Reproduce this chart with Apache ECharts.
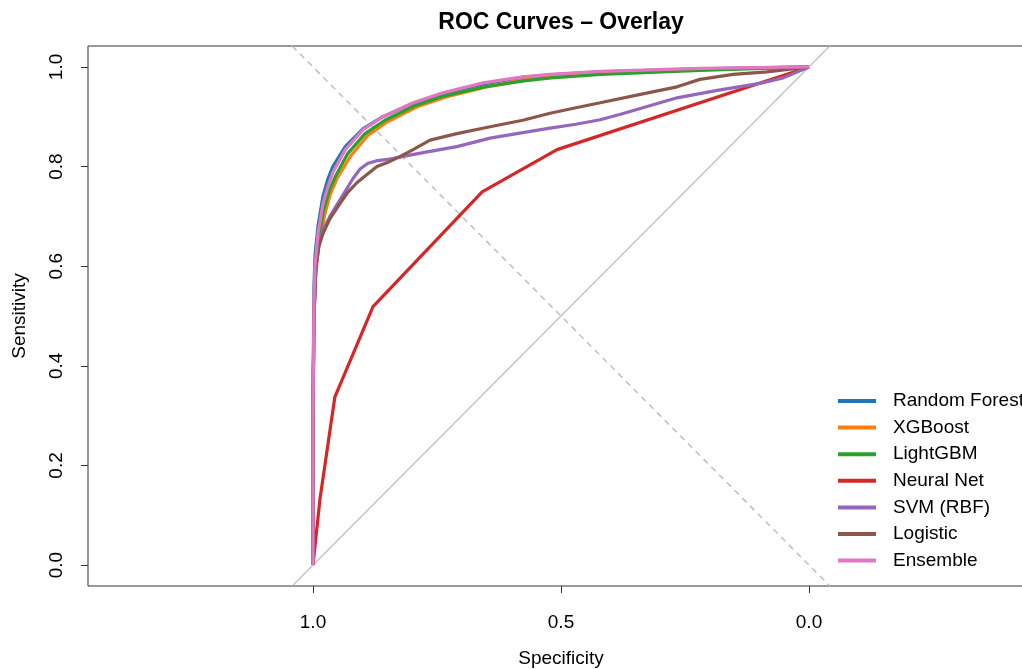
<!DOCTYPE html>
<html>
<head>
<meta charset="utf-8">
<script src="https://cdn.jsdelivr.net/npm/echarts@6/dist/echarts.min.js"></script>
<style>
html,body{margin:0;padding:0;background:#fff;}
#chart{width:1022px;height:669px;}
</style>
</head>
<body>
<div id="chart"></div>
<script>
const seriesNames = ["Random Forest","XGBoost","LightGBM","Neural Net","SVM (RBF)","Logistic","Ensemble"];
const seriesColors = ["#1f77b4","#ff7f0e","#2ca02c","#d62728","#9467bd","#8c564b","#e377c2"];

const rfSpec   = [1,1,0.998,0.996,0.990,0.980,0.970,0.960,0.935,0.899,0.859,0.798,0.738,0.657,0.577,0.522,0.421,0.22,0];
const rfSens   = [0,0.35,0.56,0.62,0.68,0.74,0.775,0.80,0.84,0.876,0.90,0.927,0.947,0.966,0.979,0.984,0.99,0.996,1];
const xgbSpec  = [1,1,0.998,0.995,0.988,0.976,0.965,0.952,0.925,0.89,0.85,0.79,0.73,0.65,0.57,0.51,0.42,0.22,0];
const xgbSens  = [0,0.3,0.5,0.58,0.645,0.705,0.745,0.775,0.82,0.862,0.89,0.92,0.94,0.96,0.975,0.982,0.988,0.995,1];
const lgbSpec  = [1,1,0.998,0.995,0.989,0.978,0.967,0.955,0.93,0.895,0.855,0.795,0.735,0.655,0.575,0.52,0.42,0.22,0];
const lgbSens  = [0,0.3,0.51,0.59,0.655,0.715,0.752,0.78,0.826,0.866,0.893,0.922,0.942,0.96,0.972,0.978,0.985,0.993,1];
const nnSpec   = [1,0.986,0.956,0.879,0.659,0.508,0];
const nnSens   = [0,0.132,0.337,0.519,0.749,0.834,1];
const svmSpec  = [1,1,0.998,0.994,0.988,0.98,0.966,0.94,0.92,0.905,0.89,0.87,0.845,0.81,0.778,0.71,0.643,0.577,0.522,0.47,0.421,0.38,0.335,0.266,0.185,0.099,0.052,0];
const svmSens  = [0,0.3,0.5,0.6,0.645,0.672,0.70,0.742,0.775,0.795,0.806,0.812,0.815,0.822,0.828,0.840,0.857,0.868,0.877,0.885,0.894,0.905,0.918,0.938,0.953,0.967,0.978,1];
const logSpec  = [1,1,0.998,0.994,0.988,0.98,0.966,0.946,0.93,0.911,0.89,0.871,0.85,0.825,0.8,0.764,0.71,0.643,0.577,0.522,0.47,0.421,0.335,0.266,0.22,0.153,0.085,0];
const logSens  = [0,0.3,0.5,0.6,0.64,0.665,0.695,0.725,0.748,0.768,0.785,0.80,0.808,0.82,0.833,0.853,0.866,0.880,0.893,0.907,0.918,0.928,0.946,0.96,0.975,0.985,0.99,1];
const ensSpec  = [1,1,0.998,0.996,0.990,0.980,0.970,0.960,0.935,0.899,0.859,0.798,0.738,0.657,0.577,0.522,0.421,0.22,0];
const ensSens  = [0,0.3,0.53,0.60,0.665,0.725,0.76,0.788,0.834,0.874,0.900,0.928,0.948,0.968,0.980,0.985,0.991,0.997,1];

const chanceSpec = [1.042,-0.042];
const chanceSens = [-0.042,1.042];
const equalSpec  = [1.042,-0.042];
const equalSens  = [1.042,-0.042];

const xTicks = [1.0,0.5,0.0];
const yTicks = [0,0.2,0.4,0.6,0.8,1.0];

const specArrays = [rfSpec,xgbSpec,lgbSpec,nnSpec,svmSpec,logSpec,ensSpec];
const sensArrays = [rfSens,xgbSens,lgbSens,nnSens,svmSens,logSens,ensSens];

function pairs(xs, ys){ return xs.map((x,i)=>[x, ys[i]]); }

const FONT = '"Liberation Sans", Arial, Helvetica, sans-serif';
const chart = echarts.init(document.getElementById('chart'), null, {renderer:'canvas'});

const series = [
  {type:'line', name:'_chance', data:pairs(chanceSpec,chanceSens), showSymbol:false, silent:true,
   lineStyle:{color:'#bebebe', width:1.2}, z:1},
  {type:'line', name:'_equal', data:pairs(equalSpec,equalSens), showSymbol:false, silent:true,
   lineStyle:{color:'#bebebe', width:1.5, type:[6,5]}, z:1}
];
seriesNames.forEach((n,i)=>{
  series.push({type:'line', name:n, data:pairs(specArrays[i],sensArrays[i]), showSymbol:false,
    lineStyle:{color:seriesColors[i], width:3.2}, itemStyle:{color:seriesColors[i]}, z:2+i});
});

chart.setOption({
  animation:false,
  backgroundColor:'#fff',
  textStyle:{fontFamily:FONT},
  grid:{left:88, top:46, right:-12, bottom:83, outerBoundsMode:'none', show:true, borderColor:'#333', borderWidth:1, backgroundColor:'transparent', containLabel:false},
  xAxis:{type:'value', inverse:true, min:-0.4536, max:1.4536,
    axisLine:{show:false, onZero:false},
    axisTick:{show:true, customValues:xTicks, length:7, inside:false, lineStyle:{color:'#333'}},
    axisLabel:{show:true, customValues:xTicks, margin:27, fontSize:19, color:'#000', fontFamily:FONT,
      formatter:v=>Number(v).toFixed(1)},
    splitLine:{show:false},
    name:'Specificity', nameLocation:'middle', nameGap:63,
    nameTextStyle:{fontSize:19, color:'#000', fontFamily:FONT}},
  yAxis:{type:'value', min:-0.042, max:1.042,
    axisLine:{show:false, onZero:false},
    axisTick:{show:true, customValues:yTicks, length:7, lineStyle:{color:'#333'}},
    axisLabel:{show:true, customValues:yTicks, margin:22, rotate:90, fontSize:19, color:'#000', fontFamily:FONT,
      formatter:v=>Number(v).toFixed(1)},
    splitLine:{show:false},
    name:'Sensitivity', nameLocation:'middle', nameGap:59, nameRotate:90,
    nameTextStyle:{fontSize:19, color:'#000', fontFamily:FONT}},
  legend:{data:seriesNames, orient:'vertical', left:833, top:386, icon:'rect',
    itemWidth:38, itemHeight:4, itemGap:6.6,
    textStyle:{fontSize:19, color:'#000', fontFamily:FONT, lineHeight:20, padding:[0,0,0,12]},
    selectedMode:false},
  graphic:[{type:'text', x:561, y:23, style:{text:'ROC Curves – Overlay',
    fill:'#000', font:'bold 23px "Liberation Sans", Arial, sans-serif', textAlign:'center', textVerticalAlign:'middle'}}],
  series:series
});
</script>
</body>
</html>
